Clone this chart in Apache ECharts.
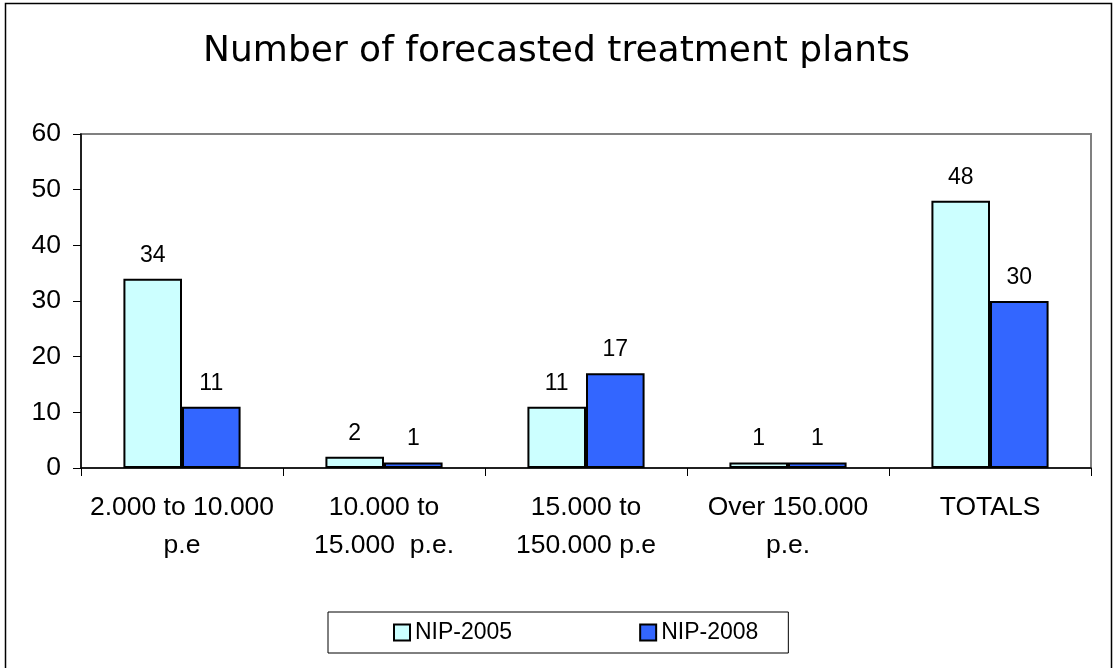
<!DOCTYPE html>
<html>
<head>
<meta charset="utf-8">
<script src="https://cdn.jsdelivr.net/npm/echarts@6/dist/echarts.min.js"></script>
<style>
  html, body { margin: 0; padding: 0; background: #fff; }
  #chart { width: 1113px; height: 668px; }
</style>
</head>
<body>
<div id="chart"></div>
<script>
// categories and values
var categories = ['2.000 to 10.000\np.e', '10.000 to\n15.000  p.e.', '15.000 to\n150.000 p.e', 'Over 150.000\np.e.', 'TOTALS'];
var nip2005 = [34, 2, 11, 1, 48];
var nip2008 = [11, 1, 17, 1, 30];
var yTicks = { min: 0, max: 60, interval: 10 };

var chart = echarts.init(document.getElementById('chart'));
var labelFont = 'Liberation Sans, Arial, sans-serif';

var option = {
  backgroundColor: '#fff',
  animation: false,
  title: {
    text: 'Number of forecasted treatment plants',
    left: 'center',
    top: 29,
    textStyle: { fontFamily: 'DejaVu Sans', fontSize: 36, fontWeight: 'normal', color: '#000' }
  },
  // outer frame of the chart
  graphic: [{
    type: 'rect',
    shape: { x: 5.5, y: 3.5, width: 1106, height: 680 },
    style: { fill: 'none', stroke: '#000', lineWidth: 1.5 },
    silent: true
  }],
  legend: {
    left: 328,
    top: 612,
    orient: 'horizontal',
    itemWidth: 16,
    itemHeight: 16,
    itemGap: 127,
    icon: 'rect',
    padding: [9, 30, 9, 65],
    borderColor: '#000',
    borderWidth: 1,
    textStyle: { fontFamily: labelFont, fontSize: 23, color: '#000' },
    data: ['NIP-2005', 'NIP-2008']
  },
  grid: {
    left: 81, right: 22, top: 134, bottom: 200,
    show: true, borderColor: '#808080', borderWidth: 2
  },
  xAxis: {
    type: 'category',
    data: categories,
    axisLine: { lineStyle: { color: '#000', width: 1.5 } },
    axisTick: { show: true, length: 8, lineStyle: { color: '#000' } },
    axisLabel: {
      color: '#000', fontFamily: labelFont, fontSize: 26.5, lineHeight: 38, margin: 21, interval: 0
    }
  },
  yAxis: {
    type: 'value',
    min: yTicks.min, max: yTicks.max, interval: yTicks.interval,
    axisLine: { show: true, lineStyle: { color: '#000', width: 1.5 } },
    axisTick: { show: true, length: 8, lineStyle: { color: '#000' } },
    splitLine: { show: false },
    axisLabel: { color: '#000', fontFamily: labelFont, fontSize: 26.5, margin: 20 }
  },
  series: [
    {
      name: 'NIP-2005',
      type: 'bar',
      data: nip2005,
      barGap: 0,
      barCategoryGap: '42%',
      itemStyle: { color: '#CCFFFF', borderColor: '#000', borderWidth: 2 },
      label: { show: true, position: 'top', distance: 12, color: '#000', fontFamily: labelFont, fontSize: 23 }
    },
    {
      name: 'NIP-2008',
      type: 'bar',
      data: nip2008,
      barGap: 0,
      barCategoryGap: '42%',
      itemStyle: { color: '#3366FF', borderColor: '#000', borderWidth: 2 },
      label: { show: true, position: 'top', distance: 12, color: '#000', fontFamily: labelFont, fontSize: 23 }
    }
  ]
};

chart.setOption(option);
</script>
</body>
</html>
